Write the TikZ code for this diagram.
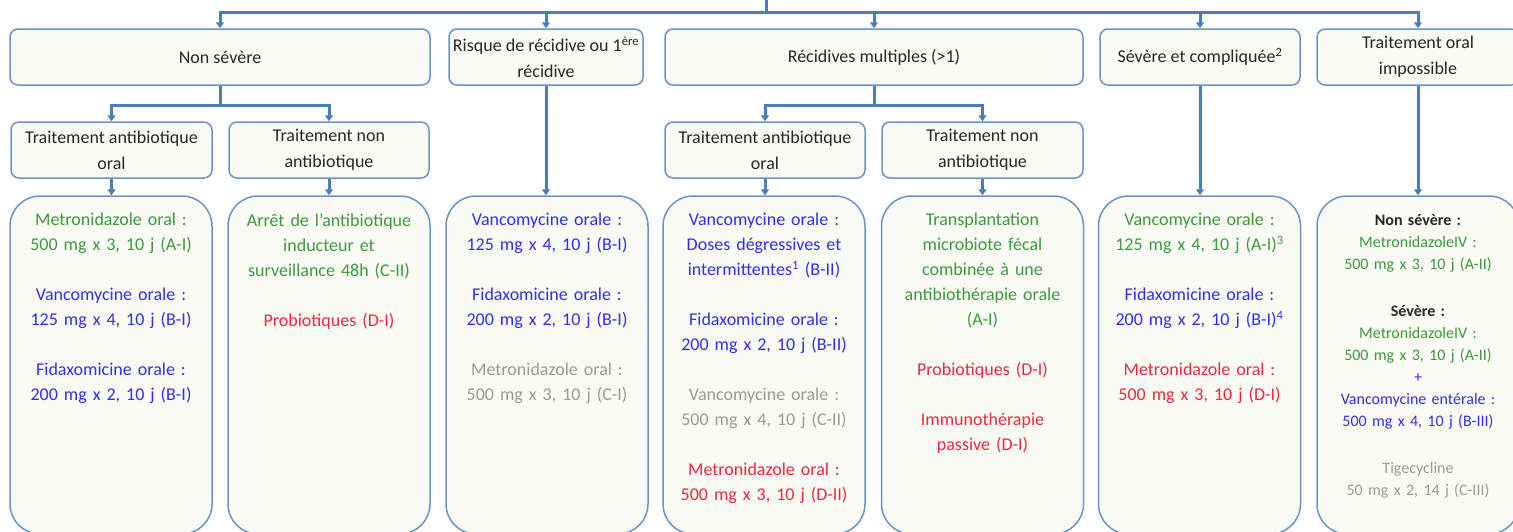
\documentclass[tikz,border=0pt]{standalone}
\usepackage{fontspec}
\setmainfont{Carlito}
\usetikzlibrary{arrows.meta}
\definecolor{linkblue}{HTML}{4A7EBB}
\definecolor{boxblue}{HTML}{6C93C8}
\definecolor{boxfill}{HTML}{FBFBF6}
\definecolor{okgreen}{HTML}{3C9A3C}
\definecolor{okblue}{HTML}{2F2FF0}
\definecolor{nored}{HTML}{F0283C}
\definecolor{midgrey}{HTML}{9A9A9A}
\begin{document}
\begin{tikzpicture}[x=1pt,y=-1pt,
    head/.style={draw=boxblue,line width=1.5pt,fill=boxfill,rounded corners=8pt,minimum height=56pt,align=center,inner sep=1pt,text=black!85,font=\fontsize{18}{26}\selectfont},
    card/.style={draw=boxblue,line width=1.5pt,fill=boxfill,rounded corners=30pt,minimum width=202pt,minimum height=338pt},
    cardtext/.style={anchor=north,text width=200pt,align=center,inner sep=0pt,font=\fontsize{18}{25}\selectfont},
    link/.style={draw=linkblue,line width=3pt},
    arr/.style={link,-{Triangle[length=6pt,width=8pt]}}]
  \useasboundingbox (0,0) rectangle (1513,531);
  \node[head,minimum width=420pt] (ns) at (220,57) {Non sévère};
  \node[head,minimum width=194pt] (rr) at (546,57) {Risque de récidive ou 1\textsuperscript{ère}\\récidive};
  \node[head,minimum width=418pt] (rm) at (874,57) {Récidives multiples (>1)};
  \node[head,minimum width=200pt] (sc) at (1200,57) {Sévère et compliquée\textsuperscript{2}};
  \node[head,minimum width=202pt] (oi) at (1418,57) {Traitement oral\\impossible};
  \node[head,minimum width=201pt] (nsab) at (111.5,150) {Traitement antibiotique\\oral};
  \node[head,minimum width=200pt] (nsnab) at (329,150) {Traitement non\\antibiotique};
  \node[head,minimum width=200pt] (rmab) at (765,150) {Traitement antibiotique\\oral};
  \node[head,minimum width=201pt] (rmnab) at (982.5,150) {Traitement non\\antibiotique};
  \foreach \n/\x in {c1/111,c2/329,c3/547,c4/764,c5/982.5,c6/1199.5,c7/1418}
    \node[card] (\n) at (\x,365) {};
  \coordinate (root) at (766,-4);
  \coordinate (hub) at (766,12);
  \draw[link] (root) -- (hub);
  \foreach \b in {ns,rr,rm,sc,oi}
    \draw[arr] (hub) -| (\b.north);
  \coordinate (nsfork) at ([yshift=-20pt]ns.south);
  \coordinate (rmfork) at ([yshift=-20pt]rm.south);
  \draw[link] (ns.south) -- (nsfork);
  \draw[link] (rm.south) -- (rmfork);
  \foreach \b in {nsab,nsnab}
    \draw[arr] (nsfork) -| (\b.north);
  \foreach \b in {rmab,rmnab}
    \draw[arr] (rmfork) -| (\b.north);
  \foreach \a/\b in {nsab/c1,nsnab/c2,rr/c3,rmab/c4,rmnab/c5,sc/c6,oi/c7}
    \draw[arr] (\a.south) -- (\a.south |- \b.north);
  \node[cardtext] (t1) at ([yshift=-18pt]c1.north) {%
    {\color{okgreen}Metronidazole oral :\\500 mg x 3, 10 j (A-I)}\\[25pt]
    {\color{okblue}Vancomycine orale :\\125 mg x 4, 10 j (B-I)}\\[25pt]
    {\color{okblue}Fidaxomicine orale :\\200 mg x 2, 10 j (B-I)}};
  \node[cardtext] (t2) at ([yshift=-18pt]c2.north) {%
    {\color{okgreen}Arrêt de l’antibiotique\\inducteur et\\surveillance 48h (C-II)}\\[25pt]
    {\color{nored}Probiotiques (D-I)}};
  \node[cardtext] (t3) at ([yshift=-18pt]c3.north) {%
    {\color{okblue}Vancomycine orale :\\125 mg x 4, 10 j (B-I)}\\[25pt]
    {\color{okblue}Fidaxomicine orale :\\200 mg x 2, 10 j (B-I)}\\[25pt]
    {\color{midgrey}Metronidazole oral :\\500 mg x 3, 10 j (C-I)}};
  \node[cardtext] (t4) at ([yshift=-18pt]c4.north) {%
    {\color{okblue}Vancomycine orale :\\Doses dégressives et\\intermittentes\textsuperscript{1} (B-II)}\\[25pt]
    {\color{okblue}Fidaxomicine orale :\\200 mg x 2, 10 j (B-II)}\\[25pt]
    {\color{midgrey}Vancomycine orale :\\500 mg x 4, 10 j (C-II)}\\[25pt]
    {\color{nored}Metronidazole oral :\\500 mg x 3, 10 j (D-II)}};
  \node[cardtext] (t5) at ([yshift=-18pt]c5.north) {%
    {\color{okgreen}Transplantation\\microbiote fécal\\combinée à une\\antibiothérapie orale\\(A-I)}\\[25pt]
    {\color{nored}Probiotiques (D-I)}\\[25pt]
    {\color{nored}Immunothérapie\\passive (D-I)}};
  \node[cardtext] (t6) at ([yshift=-18pt]c6.north) {%
    {\color{okgreen}Vancomycine orale :\\125 mg x 4, 10 j (A-I)\textsuperscript{3}}\\[25pt]
    {\color{okblue}Fidaxomicine orale :\\200 mg x 2, 10 j (B-I)\textsuperscript{4}}\\[25pt]
    {\color{nored}Metronidazole oral :\\500 mg x 3, 10 j (D-I)}};
  \node[cardtext,font=\fontsize{16}{22}\selectfont] (t7) at ([yshift=-19pt]c7.north) {%
    {\color{black!85}\bfseries Non sévère :}\\
    {\color{okgreen}MetronidazoleIV :\\500 mg x 3, 10 j (A-II)}\\[25pt]
    {\color{black!85}\bfseries Sévère :}\\
    {\color{okgreen}MetronidazoleIV :\\500 mg x 3, 10 j (A-II)}\\
    {\color{okblue}+\\Vancomycine entérale :\\500 mg x 4, 10 j (B-III)}\\[25pt]
    {\color{midgrey}Tigecycline\\50 mg x 2, 14 j (C-III)}};
\end{tikzpicture}
\end{document}
